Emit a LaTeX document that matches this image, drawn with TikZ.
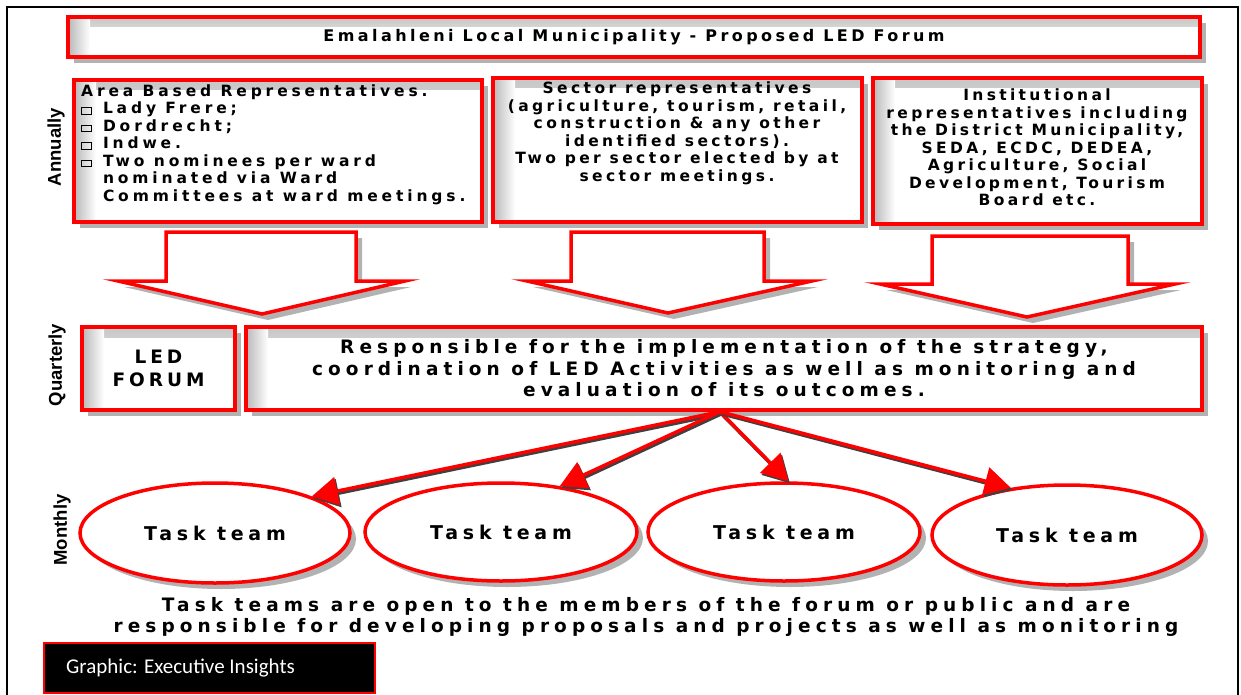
\documentclass[tikz,border=0pt]{standalone}
\usepackage{fontspec}
\setmainfont{Liberation Sans}
\newfontfamily\wf[LetterSpace=25]{DejaVu Sans Bold}
\newfontfamily\wfb[LetterSpace=27.5]{DejaVu Sans Bold}
\newfontfamily\wfc[LetterSpace=22]{DejaVu Sans Bold}
\newfontfamily\wft[LetterSpace=21.5]{DejaVu Sans Bold}
\newfontfamily\narrowf{Liberation Sans Bold}
\newfontfamily\carlitofont{Carlito}
\usetikzlibrary{shadows,arrows.meta,calc,shapes.geometric}
\newcommand{\bx}{{\setlength{\fboxsep}{0pt}\setlength{\fboxrule}{0.9pt}\fbox{\rule{0pt}{6pt}\hspace{9pt}}}}
\definecolor{rd}{RGB}{255,0,0}
\tikzset{
  redbox/.style={draw=rd, line width=3.5pt, fill=white, inner sep=0pt,
    drop shadow={shadow xshift=6pt, shadow yshift=-6pt, fill=black, opacity=0.3},
    path picture={
      \shade[top color=black!22, bottom color=white] (path picture bounding box.north west) rectangle ([yshift=-10pt]path picture bounding box.north east);
      \shade[left color=black!28, right color=white] (path picture bounding box.north west) rectangle ([xshift=22pt]path picture bounding box.south west);
    }},
  boxtext/.style={inner sep=0pt, align=center, font=\wf\fontsize{15.5}{17.5}\selectfont},
  blockarrow/.style={draw=rd, line width=3.5pt, fill=white, line join=miter,
    drop shadow={shadow xshift=6pt, shadow yshift=-6pt, fill=black, opacity=0.3}},
  teamarrow/.style={draw=rd, line width=3.5pt, -{Triangle[length=26pt,width=28pt]},
    preaction={draw=black!75, line width=3.5pt, transform canvas={shift={(1.5pt,-2pt)}}}},
  vlabel/.style={rotate=90, font=\narrowf\fontsize{18.5}{20}\selectfont, inner sep=0pt},
  teamnode/.style={ellipse, draw=rd, line width=3.5pt, fill=white, inner sep=0pt,
    font=\wf\fontsize{19}{20}\selectfont,
    drop shadow={shadow xshift=6pt, shadow yshift=-6pt, fill=black, opacity=0.3}}
}
\begin{document}
\begin{tikzpicture}[x=1pt,y=-1pt]
\useasboundingbox (0,0) rectangle (1241,695);
\draw[line width=2pt] (7,710) -- (7,7) -- (1238,7) -- (1238,710);

% title
\node[redbox, minimum width=1132pt, minimum height=40pt,
  font=\wft\fontsize{16}{17}\selectfont] (title) at (634,37)
  {Emalahleni Local Municipality - Proposed LED Forum};

% annual boxes
\node[redbox, minimum width=408pt, minimum height=142pt] (b1) at (278,151) {};
\node[redbox, minimum width=369pt, minimum height=144pt] (b2) at (677.5,150) {};
\node[redbox, minimum width=329pt, minimum height=146pt] (b3) at (1037.5,151) {};

\node[boxtext, anchor=north west, align=left] (t1) at (81,84) {%
\begin{tabular}{@{}l@{\hspace{11pt}}l@{}}
\multicolumn{2}{@{}l@{}}{Area Based Representatives.}\\
\bx & Lady Frere;\\
\bx & Dordrecht;\\
\bx & Indwe.\\
\bx & Two nominees per ward\\
 & nominated via Ward\\
 & Committees at ward meetings.
\end{tabular}};

\node[boxtext, anchor=north, font=\wfc\fontsize{15.5}{17.5}\selectfont] (t2) at (677,82) {Sector representatives\\(agriculture, tourism, retail,\\construction \& any other\\identified sectors).\\Two per sector elected by at\\sector meetings.};

\node[boxtext, anchor=north, font=\wft\fontsize{15.5}{17.5}\selectfont] (t3) at (1037,89) {Institutional\\representatives including\\the District Municipality,\\SEDA, ECDC, DEDEA,\\Agriculture, Social\\Development, Tourism\\Board etc.};

% block arrows
\draw[blockarrow] (166,232) -- (356,232) -- (356,281) -- (405,281) -- (262,314) -- (118,281) -- (166,281) -- cycle;
\draw[blockarrow] (571,232) -- (764,232) -- (764,281) -- (812,281) -- (668,313) -- (527,281) -- (571,281) -- cycle;
\draw[blockarrow] (932,236) -- (1128,236) -- (1128,284) -- (1175,284) -- (1027,317) -- (880,284) -- (932,284) -- cycle;

% labels
\node[vlabel] (lA) at (56,147) {Annually};
\node[vlabel] (lQ) at (57,365) {Quarterly};
\node[vlabel] (lM) at (62,530) {Monthly};

% quarterly
\node[redbox, minimum width=153pt, minimum height=83pt, align=center,
  font=\wft\fontsize{18.5}{23}\selectfont] (led) at (158.5,368.5) {LED\\FORUM};
\node[redbox, minimum width=956pt, minimum height=83pt, align=center,
  font=\wfb\fontsize{18.5}{21.5}\selectfont] (big) at (724,368.5)
  {Responsible for the implementation of the strategy,\\coordination of LED Activities as well as monitoring and\\evaluation of its outcomes.};

% task teams
\node[teamnode, minimum width=270pt, minimum height=100pt] (e1) at (215,533) {Task team};
\node[teamnode, minimum width=272pt, minimum height=98pt] (e2) at (501,532) {Task team};
\node[teamnode, minimum width=272pt, minimum height=98pt] (e3) at (784,532) {Task team};
\node[teamnode, minimum width=270pt, minimum height=100pt] (e4) at (1067,535) {Task team};

\coordinate (org) at ($(big.south)+(-4,0)$);
\draw[teamarrow] (org) -- (e1.north east);
\draw[teamarrow] (org) -- (e2.38);
\draw[teamarrow] (org) -- (e3.85);
\draw[teamarrow] (org) -- (e4.140);

% bottom text
\node[inner sep=0pt, align=center, font=\wfb\fontsize{18.5}{21}\selectfont] (bt) at (646,617)
  {Task teams are open to the members of the forum or public and are\\responsible for developing proposals and projects as well as monitoring};

% credit
\node[draw=rd, line width=2pt, fill=black, minimum width=331pt, minimum height=50pt]
  (credit) at (209.5,668) {};
\node[anchor=west, inner sep=0pt, text=white, font=\carlitofont\fontsize{21}{23}\selectfont]
  (credittext) at (66,668) {Graphic: Executive Insights};
\end{tikzpicture}
\end{document}
